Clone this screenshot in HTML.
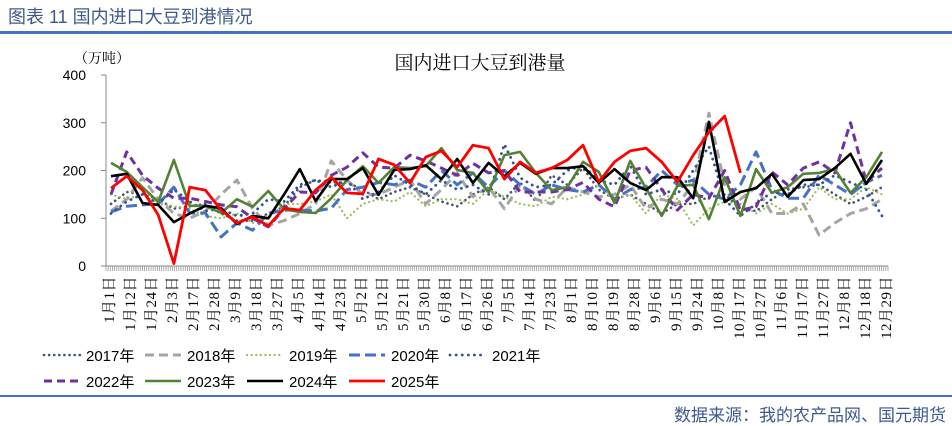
<!DOCTYPE html>
<html><head><meta charset="utf-8">
<style>
html,body{margin:0;padding:0;background:#fff;}
body{width:952px;height:422px;position:relative;overflow:hidden;font-family:"Liberation Sans","Noto Sans CJK SC",sans-serif;}
#hdr{position:absolute;left:8px;top:3px;font-size:18px;color:#3d5a8c;}
#hline{position:absolute;left:0;top:31px;width:952px;height:3px;background:#4472c4;}
#fline{position:absolute;left:0;top:395px;width:952px;height:2px;background:#4472c4;}
#ftr{position:absolute;right:6px;top:401px;font-size:17px;color:#3d5a8c;}
svg{position:absolute;left:0;top:0;}
</style></head><body>
<div id="hdr">图表 11 国内进口大豆到港情况</div>
<div id="hline"></div>
<svg id="chart" width="952" height="422"></svg>
<div id="fline"></div>
<div id="ftr">数据来源：我的农产品网、国元期货</div>
<script>
const xLabels=["1月1日","1月12日","1月24日","2月3日","2月17日","2月28日","3月9日","3月18日","3月27日","4月5日","4月14日","4月23日","5月2日","5月12日","5月21日","5月30日","6月8日","6月17日","6月26日","7月5日","7月14日","7月23日","8月1日","8月10日","8月19日","8月28日","9月6日","9月15日","9月24日","10月8日","10月17日","10月27日","11月6日","11月17日","11月27日","12月8日","12月18日","12月29日"];
const yTicks=[0,100,200,300,400];
const s2017=[130,155,150,140,120,125,130,110,95,95,110,125,165,180,175,175,160,140,155,165,150,135,125,150,165,140,175,135,190,170,205,160,140,150,130,110,130,130,145,150,120,115,140,160,165,170,150,130,145,165];
const s2018=[115,140,185,140,110,100,115,150,180,120,85,95,110,130,220,180,150,150,165,180,130,160,195,145,165,120,170,140,130,165,155,145,150,170,120,140,130,170,320,170,140,165,110,110,130,65,90,110,120,140];
const s2019=[150,140,150,130,125,120,105,100,110,90,100,130,130,135,150,100,130,140,135,155,125,140,140,130,160,145,130,125,145,140,150,170,140,150,110,150,140,85,120,135,130,110,130,110,120,165,140,140,165,150];
const s2020=[113,125,128,130,165,111,111,61,90,75,110,117,117,115,121,160,165,175,170,180,165,200,170,195,165,200,170,150,170,160,155,170,140,160,165,200,170,180,150,140,170,239,160,142,142,190,170,150,175,190];
const s2021=[110,135,150,130,160,135,115,120,105,110,140,135,170,180,165,180,140,155,190,170,150,180,160,170,150,255,185,165,170,200,210,180,170,210,150,160,150,200,250,140,105,130,155,150,170,170,190,175,160,105];
const s2022=[150,239,190,163,142,142,135,128,124,100,82,120,155,153,190,207,237,207,205,232,220,205,190,215,195,200,155,155,155,160,175,140,124,200,207,160,117,150,142,200,117,124,197,170,205,218,195,300,176,205];
const s2023=[216,197,165,134,222,126,126,111,140,124,157,119,113,111,142,180,209,174,207,205,209,247,201,195,155,232,239,195,159,165,218,197,132,220,163,105,168,170,98,186,105,203,153,165,193,195,203,153,186,239];
const s2024=[188,193,132,128,92,110,126,121,88,105,100,150,203,136,182,182,205,149,201,203,211,182,224,174,216,188,216,193,205,205,209,174,203,174,159,186,186,142,302,134,155,163,193,145,180,182,205,235,172,222];
const s2025=[163,188,159,107,5,165,159,117,90,103,84,121,117,159,186,153,151,224,212,174,228,241,207,253,247,182,218,195,205,222,253,176,218,241,247,218,176,232,280,314,195];
const seriesNames=["2017年","2018年","2019年","2020年","2021年","2022年","2023年","2024年","2025年"];

const NS="http://www.w3.org/2000/svg";
const svg=document.getElementById('chart');
const X0=106,X1=888,Y0=266,Y1=75;
const yScale=v=>Y0-(v/400)*(Y0-Y1);
const N=50;
const xWeek=i=>111+i*(882-111)/(N-1);
const xLab=i=>108+i*(885-108)/(xLabels.length-1);
function mk(tag,attrs,parent){const e=document.createElementNS(NS,tag);for(const k in attrs)e.setAttribute(k,attrs[k]);(parent||svg).appendChild(e);return e;}

let t=mk('text',{x:480,y:69,'text-anchor':'middle','font-size':19,'font-family':'"Liberation Serif","Noto Serif CJK SC",serif',fill:'#000'});
t.textContent='国内进口大豆到港量';


t=mk('text',{x:74,y:63,'font-size':14,'font-family':'"Liberation Serif","Noto Serif CJK SC",serif',fill:'#000'});
t.textContent='（万吨）';



let ax=mk('line',{x1:X0,y1:Y1,x2:X0,y2:Y0,stroke:'#888','stroke-width':1});


ax=mk('line',{x1:X0,y1:Y0,x2:X1,y2:Y0,stroke:'#888','stroke-width':1});


yTicks.forEach(v=>{
  const y=yScale(v);
  const tk=mk('line',{x1:X0-5,y1:y,x2:X0,y2:y,stroke:'#888'});
  
  
  const lb=mk('text',{x:86,y:y+5,'text-anchor':'end','font-size':14,'font-family':'"Liberation Sans",sans-serif',fill:'#000'});
  lb.textContent=v;
  
  
});
let d='';
for(let k=0;k<=365;k++){const x=X0+k*(X1-X0)/365;d+=`M${x.toFixed(2)} ${Y0}V${Y0+5}`;}
const dt=mk('path',{d:d,stroke:'#999','stroke-width':0.8});


xLabels.forEach((s,i)=>{
  const x=xLab(i)+6;
  const lb=mk('text',{x:0,y:0,transform:`translate(${x},276) rotate(-90)`,'text-anchor':'end','font-size':15,'letter-spacing':0.5,'font-family':'"Liberation Serif","Noto Serif CJK SC",serif',fill:'#000'});
  lb.textContent=s;
  
  
});

const styles=[
 {c:'#44546a',w:2.6,da:'0.1 5',cap:'round'},
 {c:'#a5a5a5',w:3,da:'9 5',cap:'butt'},
 {c:'#9bbb59',w:2.2,da:'0.1 4.5',cap:'round'},
 {c:'#4472c4',w:3,da:'11 5',cap:'butt'},
 {c:'#2f5597',w:2.8,da:'0.1 6',cap:'round'},
 {c:'#7030a0',w:3,da:'8 5',cap:'butt'},
 {c:'#548235',w:2.6,da:'',cap:'butt'},
 {c:'#000000',w:2.6,da:'',cap:'butt'},
 {c:'#ff0000',w:2.8,da:'',cap:'butt'}
];
const data=[s2017,s2018,s2019,s2020,s2021,s2022,s2023,s2024,s2025];
const slugs=['2017','2018','2019','2020','2021','2022','2023','2024','2025'];
data.forEach((arr,si)=>{
  const st=styles[si];
  const pts=arr.map((v,i)=>xWeek(i).toFixed(1)+','+yScale(v).toFixed(1)).join(' ');
  const pl=mk('polyline',{points:pts,fill:'none',stroke:st.c,'stroke-width':st.w,'stroke-linecap':st.cap,'stroke-linejoin':'round'});
  if(st.da)pl.setAttribute('stroke-dasharray',st.da);
  
  
});

const legX=[42,143,245,347,448];
seriesNames.forEach((nm,i)=>{
  const st=styles[i];
  const row=i<5?0:1, col=i<5?i:i-5;
  const x=legX[col], y=row?381:355;
  const g=mk('g',{});
  
  
  const ln=mk('line',{x1:x+2,y1:y,x2:x+38,y2:y,stroke:st.c,'stroke-width':st.w,'stroke-linecap':st.cap},g);
  if(st.da)ln.setAttribute('stroke-dasharray',st.da);
  
  
  const tx=mk('text',{x:x+44,y:y+6,'font-size':15,'font-family':'"Liberation Sans","Noto Sans CJK SC",sans-serif',fill:'#000'},g);
  tx.textContent=nm;
  
  
});
</script>
</body></html>
